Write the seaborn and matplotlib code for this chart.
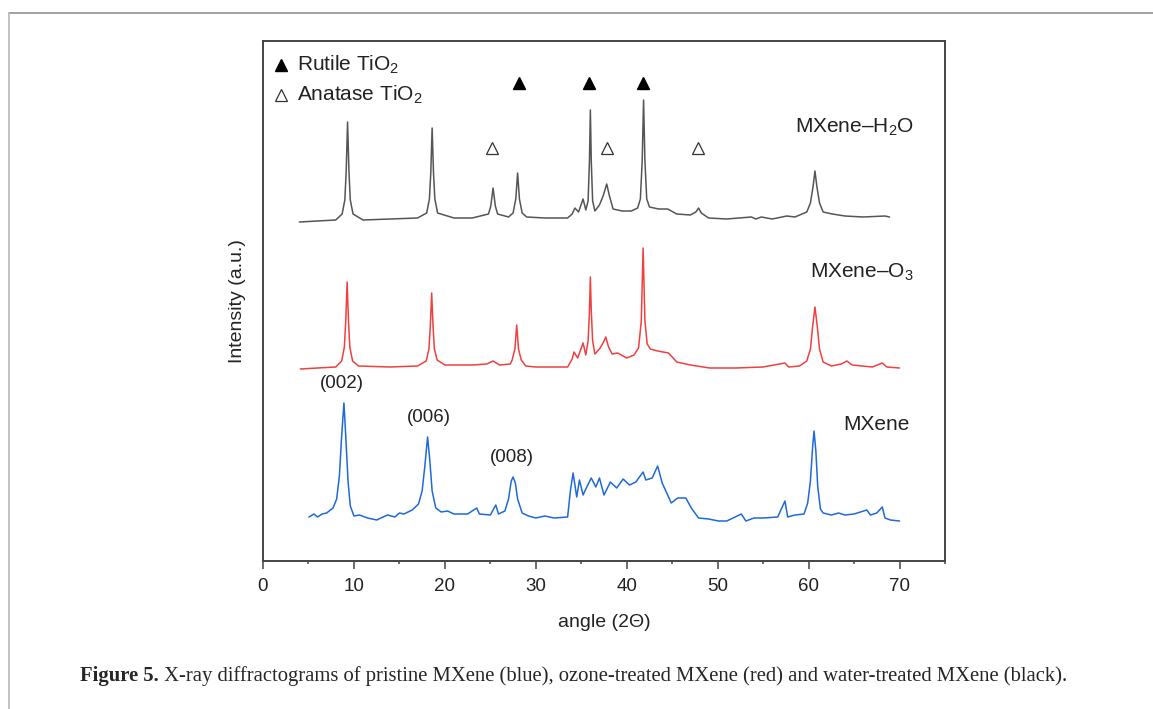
#!/usr/bin/env python3
"""
MXene XRD 회절 패턴 (pristine / O3 / H2O)
"""

import pandas as pd
import matplotlib
matplotlib.use("Agg")
import matplotlib.pyplot as plt
from matplotlib.lines import Line2D
from matplotlib.ticker import MultipleLocator
import seaborn as sns

# [데이터] 그림에서 읽은 값 (angle = 2Θ, intensity = 임의 단위, 세 패턴은 위아래로 띄워 그림)
h2o_angle = [4.0, 6.0, 8.0, 8.7, 9.0, 9.15, 9.3, 9.45, 9.6, 9.9, 11.0, 14.0, 17.0,
             18.0, 18.3, 18.45, 18.6, 18.75, 18.9, 19.2, 21.0, 23.0,
             24.8, 25.05, 25.3, 25.55, 25.8, 27.0, 27.5, 27.8, 28.0, 28.2, 28.5, 29.0, 31.0,
             33.5, 34.0, 34.3, 34.7, 35.2, 35.5, 35.75, 35.9, 36.0, 36.1, 36.25, 36.5,
             37.0, 37.4, 37.8, 38.1, 38.5, 39.5, 40.5, 41.2, 41.5, 41.7, 41.85, 42.0, 42.2, 42.5,
             43.5, 44.5, 45.5, 47.0, 47.6, 47.9, 48.2, 49.0, 51.0, 53.7, 54.2, 54.8, 56.0,
             57.6, 58.5, 59.8, 60.2, 60.5, 60.7, 60.9, 61.2, 61.6, 62.6, 64.0, 66.0, 68.4, 68.9]
h2o_int = [339, 340, 341, 347, 361, 390, 439, 390, 361, 347, 341, 342, 343,
           348, 362, 388, 433, 388, 362, 348, 343, 343,
           347, 355, 373, 355, 347, 344, 348, 362, 388, 362, 348, 344, 343,
           343, 347, 353, 349, 362, 351, 360, 400, 451, 400, 360, 350,
           356, 365, 377, 365, 352, 350, 350, 353, 362, 400, 461, 400, 362, 354,
           352, 352, 347, 346, 349, 353, 348, 343, 342, 344, 342, 344, 342,
           345, 344, 349, 358, 375, 390, 375, 358, 349, 347, 345, 344, 345, 344]

o3_angle = [4.1, 6.0, 8.0, 8.65, 8.95, 9.1, 9.25, 9.4, 9.55, 9.85, 10.5, 14.0, 17.0,
            17.95, 18.25, 18.4, 18.55, 18.7, 18.85, 19.15, 20.0, 23.0, 24.6, 25.3, 26.0, 27.2,
            27.4, 27.7, 27.9, 28.1, 28.4, 28.9, 30.0, 33.5, 34.0, 34.2, 34.6, 35.2, 35.5,
            35.75, 35.9, 36.0, 36.1, 36.25, 36.5, 37.0, 37.4, 37.7, 38.0, 38.4, 39.0, 40.0,
            40.8, 41.3, 41.6, 41.8, 42.0, 42.25, 42.6, 43.4, 44.6, 45.5, 47.0, 49.1, 52.0,
            55.0, 57.4, 57.8, 59.0, 59.8, 60.2, 60.45, 60.7, 60.95, 61.2, 61.6, 62.5, 63.6,
            64.2, 64.8, 67.0, 68.1, 68.6, 70.0]
o3_int = [192, 193, 194, 200, 214, 240, 279, 240, 214, 200, 195, 194, 195,
          200, 212, 235, 268, 235, 212, 201, 196, 196, 197, 200, 196, 197,
          201, 212, 236, 212, 201, 195, 194, 194, 202, 209, 203, 218, 206,
          220, 250, 284, 250, 220, 207, 212, 218, 224, 214, 207, 208, 203,
          206, 213, 240, 313, 240, 217, 212, 210, 208, 199, 196, 193, 193,
          194, 198, 194, 195, 200, 212, 235, 254, 235, 212, 199, 195, 197,
          200, 196, 194, 198, 194, 193]

mx_angle = [5.05, 5.6, 6.0, 6.5, 7.0, 7.7, 8.1, 8.4, 8.65, 8.9, 9.1, 9.35, 9.6, 10.0, 10.6,
            11.5, 12.5, 13.2, 13.7, 14.5, 15.0, 15.5, 16.4, 17.1, 17.5, 17.8, 18.1, 18.35, 18.6,
            19.0, 19.6, 20.3, 21.0, 22.5, 23.5, 23.8, 25.0, 25.6, 25.9, 26.6, 27.0, 27.3, 27.5,
            27.75, 28.0, 28.5, 29.2, 30.0, 31.0, 32.0, 33.5, 33.8, 34.1, 34.5, 34.8, 35.2, 35.5,
            36.1, 36.6, 37.0, 37.5, 38.2, 38.9, 39.6, 40.3, 41.0, 41.8, 42.1, 42.8, 43.4, 43.9,
            44.9, 45.6, 46.5, 47.1, 47.9, 49.0, 50.1, 51.0, 52.6, 53.1, 54.0, 55.0, 56.6, 57.4,
            57.7, 58.5, 59.5, 59.9, 60.2, 60.45, 60.6, 60.8, 61.0, 61.3, 61.6, 62.5, 63.3, 64.0,
            65.0, 66.4, 66.8, 67.5, 68.1, 68.4, 69.0, 70.0]
mx_int = [44, 47, 44, 47, 48, 53, 62, 85, 125, 158, 125, 80, 55, 45, 46,
          43, 41, 44, 46, 44, 48, 47, 51, 57, 70, 95, 124, 100, 70,
          53, 49, 50, 47, 47, 53, 47, 46, 56, 47, 50, 62, 80, 84,
          78, 62, 48, 45, 43, 45, 43, 44, 70, 88, 64, 81, 66, 72,
          83, 74, 83, 66, 79, 73, 82, 76, 79, 89, 81, 83, 95, 78,
          58, 63, 63, 53, 43, 42, 40, 40, 47, 40, 43, 43, 44, 60,
          44, 46, 47, 58, 80, 115, 130, 110, 75, 52, 48, 46, 48, 46,
          47, 51, 46, 48, 54, 43, 41, 40]

rutile_angle = [28.1, 35.9, 41.8]
anatase_angle = [25.2, 37.8, 47.8]

series_names = ["MXene\u2013H$_2$O", "MXene\u2013O$_3$", "MXene"]
series_colors = ["#555555", "#f0403f", "#1f6ad8"]
peak_labels = ["(002)", "(006)", "(008)"]
peak_label_angle = [8.7, 18.2, 27.4]

caption_bold = "Figure 5."
caption_rest = (" X-ray diffractograms of pristine MXene (blue), ozone-treated MXene (red) "
                "and water-treated MXene (black).")


def main():
    sns.set_theme(style="white")
    plt.rcParams["font.family"] = ["Liberation Sans", "DejaVu Sans"]
    plt.rcParams["mathtext.fontset"] = "custom"
    plt.rcParams["mathtext.rm"] = "Liberation Sans"
    plt.rcParams["mathtext.it"] = "Liberation Sans:italic"

    fig = plt.figure(figsize=(11.53, 7.09), dpi=100)
    ax = fig.add_axes([263 / 1153, 1 - 561 / 709, 682 / 1153, 520 / 709])

    frames = [
        pd.DataFrame({"angle": h2o_angle, "intensity": h2o_int}),
        pd.DataFrame({"angle": o3_angle, "intensity": o3_int}),
        pd.DataFrame({"angle": mx_angle, "intensity": mx_int}),
    ]
    for df, col in zip(frames, series_colors):
        sns.lineplot(data=df, x="angle", y="intensity", color=col, lw=1.1,
                     estimator=None, sort=False, ax=ax)

    ax.set_xlim(0, 75)
    ax.set_ylim(0, 520)
    ax.xaxis.set_major_locator(MultipleLocator(10))
    ax.xaxis.set_minor_locator(MultipleLocator(5))
    ax.set_yticks([])
    ax.tick_params(axis="x", which="major", bottom=True, direction="out", length=6,
                   width=1.1, color="#444444", labelsize=13.5, pad=6, labelcolor="#222222")
    ax.tick_params(axis="x", which="minor", bottom=True, direction="out", length=2.5,
                   width=1.1, color="#444444")
    for sp in ax.spines.values():
        sp.set_color("#444444")
        sp.set_linewidth(1.4)

    ax.set_xlabel("angle (2\u0398)", fontsize=14, color="#222222", labelpad=14)
    ax.set_ylabel("Intensity (a.u.)", fontsize=14, color="#222222", labelpad=12)

    # 범례 (수동)
    ax.plot([2.0], [496], marker="^", ms=8, color="black", ls="none")
    ax.plot([2.0], [466], marker="^", ms=8, mfc="white", mec="#333333", mew=0.9, ls="none")
    ax.text(3.7, 496, "Rutile TiO$_2$", fontsize=15, va="center", ha="left", color="#222222")
    ax.text(3.7, 466, "Anatase TiO$_2$", fontsize=15, va="center", ha="left", color="#222222")

    # 피크 표시 삼각형
    ax.plot(rutile_angle, [478] * len(rutile_angle), marker="^", ms=8, color="black", ls="none")
    ax.plot(anatase_angle, [413] * len(anatase_angle), marker="^", ms=8, mfc="white",
            mec="#333333", mew=0.9, ls="none")

    # 시리즈 이름
    ax.text(71.6, 434, series_names[0], fontsize=15, ha="right", va="center", color="#222222")
    ax.text(71.6, 289, series_names[1], fontsize=15, ha="right", va="center", color="#222222")
    ax.text(71.1, 136, series_names[2], fontsize=15, ha="right", va="center", color="#222222")

    # (00l) 라벨
    for lab, xa, ya in zip(peak_labels, peak_label_angle, [177, 143, 104]):
        ax.text(xa, ya, lab, fontsize=13.5, ha="center", va="center", color="#222222")

    # 바깥 테두리 선
    fig.add_artist(Line2D([9 / 1153, 1], [1 - 13 / 709, 1 - 13 / 709], color="#9a9a9a", lw=1.3))
    fig.add_artist(Line2D([9 / 1153, 9 / 1153], [0, 1 - 13 / 709], color="#bdbdbd", lw=1.3))

    # 캡션
    serif = ["Liberation Serif", "DejaVu Serif"]
    cy = 1 - 676 / 709
    t1 = fig.text(80 / 1153, cy, caption_bold, fontsize=14.9, fontweight="bold",
                  family=serif, va="center", ha="left")
    fig.canvas.draw()
    bb = t1.get_window_extent()
    fig.text(bb.x1 / 1153, cy, caption_rest, fontsize=14.9, family=serif, va="center", ha="left")

    fig.savefig("out.png", dpi=100)
    plt.close(fig)


if __name__ == "__main__":
    main()
